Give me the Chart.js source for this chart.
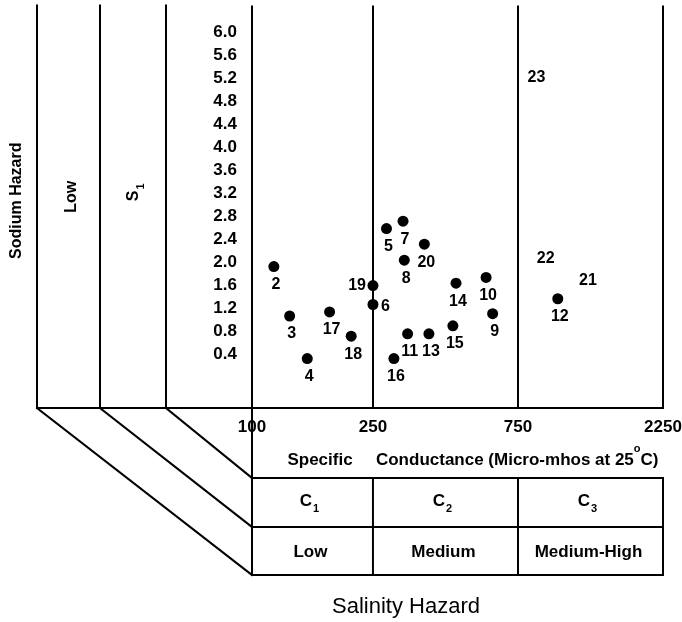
<!DOCTYPE html>
<html>
<head>
<meta charset="utf-8">
<title>Salinity / Sodium Hazard diagram</title>
<script src="https://cdn.jsdelivr.net/npm/chart.js@4.4.0/dist/chart.umd.min.js"></script>
<style>
  html, body { margin: 0; padding: 0; background: #fff; }
  #wrap { width: 682px; height: 622px; }
</style>
</head>
<body>
<div id="wrap"><canvas id="chart" width="682" height="622"></canvas></div>
<script>
// Sample numbers printed next to each point
const sampleIds = ['2', '3', '4', '5', '6', '7', '8', '9', '10', '11', '12',
                   '13', '14', '15', '16', '17', '18', '19', '20', '21', '22', '23'];
// Specific conductance (micro-mhos at 25 C)
const conductance = [118, 133, 152, 277, 250, 314, 317, 619, 589, 325, 1014,
                     382, 469, 458, 293, 180, 212, 250, 369, 1274, 925, 863];
// Sodium hazard
const sodium = [1.92, 1.06, 0.32, 2.58, 1.26, 2.71, 2.03, 1.10, 1.73, 0.75, 1.36,
                0.75, 1.63, 0.89, 0.32, 1.13, 0.71, 1.59, 2.31, 1.67, 2.06, 5.20];
// 21, 22 and 23 are only numbered, no dot
const hasDot = [true, true, true, true, true, true, true, true, true, true, true,
                true, true, true, true, true, true, true, true, false, false, false];

// tick labels
const xTicks = [100, 250, 750, 2250];
const yTicks = [0.4, 0.8, 1.2, 1.6, 2.0, 2.4, 2.8, 3.2, 3.6, 4.0, 4.4, 4.8, 5.2, 5.6, 6.0];

// salinity classes in the table under the axis
const classSub = ['1', '2', '3'];
const className = ['Low', 'Medium', 'Medium-High'];

// where each number sits relative to its dot
const labelSide = ['below', 'below', 'below', 'below', 'right', 'below', 'below', 'below', 'below', 'below', 'below',
                   'below', 'below', 'below', 'below', 'below', 'below', 'left', 'below', 'on', 'on', 'on'];

const FONT = '"Liberation Sans", Arial, Helvetica, sans-serif';

// number labels beside the dots
const pointLabels = {
    id: 'pointLabels',
    afterDatasetsDraw(chart) {
        const ctx = chart.ctx;
        const meta = chart.getDatasetMeta(0);
        ctx.save();
        ctx.fillStyle = '#000';
        ctx.font = 'bold 16px ' + FONT;
        ctx.textBaseline = 'middle';
        meta.data.forEach((pt, i) => {
            const side = labelSide[i];
            if (side === 'left') {
                ctx.textAlign = 'right';
                ctx.fillText(sampleIds[i], pt.x - 7, pt.y);
            } else if (side === 'right') {
                ctx.textAlign = 'left';
                ctx.fillText(sampleIds[i], pt.x + 8, pt.y + 2);
            } else if (side === 'on') {
                ctx.textAlign = 'center';
                ctx.fillText(sampleIds[i], pt.x, pt.y);
            } else {
                ctx.textAlign = 'center';
                ctx.fillText(sampleIds[i], pt.x + 2, pt.y + 18);
            }
        });
        ctx.restore();
    }
};

// the perspective frame, the class table and the free texts
const frame = {
    id: 'frame',
    afterDraw(chart) {
        const ctx = chart.ctx;
        const a = chart.chartArea;
        const x = chart.scales.x;
        const x250 = x.getPixelForValue(250);
        const x750 = x.getPixelForValue(750);
        const sideX = [a.left - 215, a.left - 152, a.left - 86];
        const rows = [a.bottom + 70, a.bottom + 119, a.bottom + 167];

        ctx.save();
        ctx.strokeStyle = '#000';
        ctx.lineWidth = 2;
        ctx.lineCap = 'square';

        const line = (x1, y1, x2, y2) => {
            ctx.beginPath();
            ctx.moveTo(x1, y1);
            ctx.lineTo(x2, y2);
            ctx.stroke();
        };

        // base line and left columns
        line(sideX[0], a.bottom, a.right, a.bottom);
        sideX.forEach(sx => line(sx, a.top, sx, a.bottom));
        // diagonals down to the table
        line(sideX[0], a.bottom, a.left, rows[2]);
        line(sideX[1], a.bottom, a.left, rows[1]);
        line(sideX[2], a.bottom, a.left, rows[0]);
        // table
        line(a.left, a.bottom, a.left, rows[2]);
        rows.forEach(ry => line(a.left, ry, a.right, ry));
        [x250, x750, a.right].forEach(cx => line(cx, rows[0], cx, rows[2]));

        ctx.fillStyle = '#000';
        ctx.textBaseline = 'middle';

        // axis caption between ticks and table
        ctx.font = 'bold 17px ' + FONT;
        ctx.textAlign = 'center';
        ctx.fillText('Specific', a.left + 68, a.bottom + 52);
        ctx.textAlign = 'left';
        let cx = x250 + 3;
        const part1 = 'Conductance (Micro-mhos at 25';
        ctx.fillText(part1, cx, a.bottom + 52);
        cx += ctx.measureText(part1).width;
        ctx.font = 'bold 11px ' + FONT;
        ctx.fillText('o', cx, a.bottom + 41);
        cx += ctx.measureText('o').width;
        ctx.font = 'bold 17px ' + FONT;
        ctx.fillText('C)', cx, a.bottom + 52);

        // table texts
        const cols = [a.left, x250, x750, a.right];
        const midRow1 = (rows[0] + rows[1]) / 2 + 1;
        const midRow2 = (rows[1] + rows[2]) / 2 + 1;
        for (let i = 0; i < 3; i++) {
            const mid = (cols[i] + cols[i + 1]) / 2;
            ctx.font = 'bold 17px ' + FONT;
            const wC = ctx.measureText('C').width;
            ctx.font = 'bold 11px ' + FONT;
            const wS = ctx.measureText(classSub[i]).width;
            const start = mid - (wC + wS + 1) / 2 - 3;
            ctx.textAlign = 'left';
            ctx.font = 'bold 17px ' + FONT;
            ctx.fillText('C', start, midRow1 - 2);
            ctx.font = 'bold 11px ' + FONT;
            ctx.fillText(classSub[i], start + wC + 1, midRow1 + 5);
            ctx.font = 'bold 17px ' + FONT;
            ctx.textAlign = 'center';
            ctx.fillText(className[i], mid - 2, midRow2);
        }

        // bottom caption
        ctx.font = '22px ' + FONT;
        ctx.textAlign = 'center';
        ctx.fillText('Salinity Hazard', 406, chart.height - 15);

        // rotated texts on the left
        const rotText = (txt, px, py, sub) => {
            ctx.save();
            ctx.translate(px, py);
            ctx.rotate(-Math.PI / 2);
            ctx.font = 'bold 16px ' + FONT;
            if (sub) {
                const w = ctx.measureText(txt).width;
                ctx.font = 'bold 11px ' + FONT;
                const ws = ctx.measureText(sub).width;
                ctx.textAlign = 'left';
                ctx.font = 'bold 16px ' + FONT;
                ctx.fillText(txt, -(w + ws) / 2, 0);
                ctx.font = 'bold 11px ' + FONT;
                ctx.fillText(sub, -(w + ws) / 2 + w + 1, 7);
            } else {
                ctx.textAlign = 'center';
                ctx.fillText(txt, 0, 0);
            }
            ctx.restore();
        };
        const midY = (a.top + a.bottom) / 2;
        rotText('Sodium Hazard', 17, midY - 6);
        rotText('Low', (sideX[0] + sideX[1]) / 2 + 3, midY - 10);
        rotText('S', (sideX[1] + sideX[2]) / 2 + 1, midY - 14, '1');

        ctx.restore();
    }
};

const ctx = document.getElementById('chart').getContext('2d');
new Chart(ctx, {
    type: 'scatter',
    data: {
        datasets: [{
            data: conductance.map((c, i) => ({ x: c, y: sodium[i] })),
            backgroundColor: '#000',
            borderWidth: 0,
            pointRadius: c => (hasDot[c.dataIndex] ? 5.5 : 0),
            pointHoverRadius: c => (hasDot[c.dataIndex] ? 5.5 : 0)
        }]
    },
    options: {
        responsive: false,
        animation: false,
        events: [],
        layout: { padding: { top: 5, right: 19, left: 0, bottom: 0 } },
        plugins: {
            legend: { display: false },
            tooltip: { enabled: false }
        },
        scales: {
            x: {
                type: 'logarithmic',
                min: 100,
                max: 2250,
                afterBuildTicks: s => { s.ticks = xTicks.map(v => ({ value: v })); },
                afterFit: s => {
                    s.height = 214;
                    s.paddingLeft = 0;
                    s.paddingRight = 0;
                },
                grid: { color: '#000', lineWidth: 2, drawTicks: false },
                border: { display: false },
                ticks: {
                    padding: 9,
                    color: '#000',
                    autoSkip: false,
                    maxRotation: 0,
                    font: { family: FONT, size: 17, weight: 'bold' },
                    callback: v => String(v)
                }
            },
            y: {
                min: -0.54,
                max: 6.46,
                afterBuildTicks: s => { s.ticks = yTicks.map(v => ({ value: v })); },
                afterFit: s => {
                    s.width = 252;
                    s.paddingTop = 0;
                    s.paddingBottom = 0;
                },
                grid: { display: false, drawTicks: false },
                border: { display: false },
                ticks: {
                    padding: 15,
                    color: '#000',
                    font: { family: FONT, size: 17, weight: 'bold' },
                    callback: v => v.toFixed(1)
                }
            }
        }
    },
    plugins: [pointLabels, frame]
});
</script>
</body>
</html>
